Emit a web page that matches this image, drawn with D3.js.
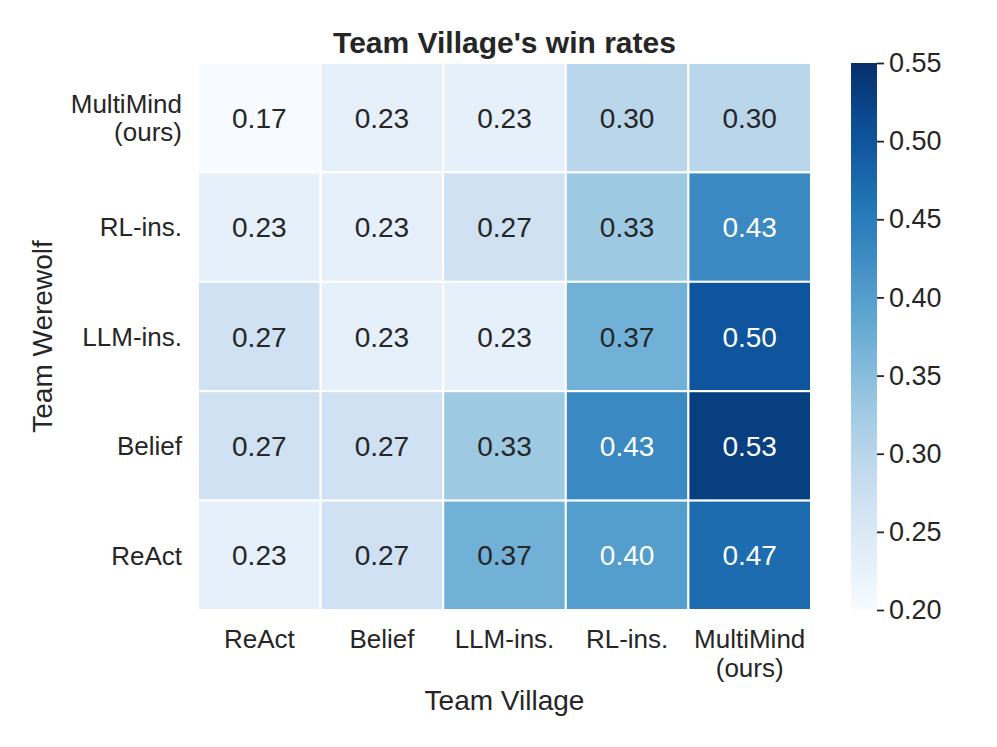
<!DOCTYPE html>
<html>
<head>
<meta charset="utf-8">
<script src="https://cdn.jsdelivr.net/npm/d3@7"></script>
<style>
body { margin: 0; background: #fff; }
text { font-family: "Liberation Sans", Arial, sans-serif; fill: #262626; }
</style>
</head>
<body>
<div id="chart"></div>
<script>
// columns = Team Village, rows = Team Werewolf
var villageTeams = ["ReAct", "Belief", "LLM-ins.", "RL-ins.", "MultiMind\n(ours)"]
var werewolfTeams = ["MultiMind\n(ours)", "RL-ins.", "LLM-ins.", "Belief", "ReAct"]
var rowMultiMind = [0.17, 0.23, 0.23, 0.30, 0.30]
var rowRL = [0.23, 0.23, 0.27, 0.33, 0.43]
var rowLLM = [0.27, 0.23, 0.23, 0.37, 0.50]
var rowBelief = [0.27, 0.27, 0.33, 0.43, 0.53]
var rowReAct = [0.23, 0.27, 0.37, 0.40, 0.47]
var colorTicks = [0.20, 0.25, 0.30, 0.35, 0.40, 0.45, 0.50, 0.55]

var rows = [rowMultiMind, rowRL, rowLLM, rowBelief, rowReAct]
var cells = []
rows.forEach((r, i) => r.forEach((v, j) => cells.push({row: i, col: j, value: v})))

var width = 997, height = 747
var margin = {top: 63, left: 198, right: 186, bottom: 137}

var svg = d3.select("#chart").append("svg")
  .attr("width", width).attr("height", height)

var x = d3.scaleBand().domain(d3.range(villageTeams.length))
  .range([margin.left, width - margin.right])
var y = d3.scaleBand().domain(d3.range(werewolfTeams.length))
  .range([margin.top, height - margin.bottom])
var color = d3.scaleSequential(d3.interpolateBlues).domain([0.2, 0.55]).clamp(true)

function lum(c) {
  var rgb = d3.rgb(c)
  var f = v => { v = v / 255; return v <= 0.03928 ? v / 12.92 : Math.pow((v + 0.055) / 1.055, 2.4) }
  return 0.2126 * f(rgb.r) + 0.7152 * f(rgb.g) + 0.0722 * f(rgb.b)
}

svg.append("g").selectAll("rect").data(cells).join("rect")
  .attr("x", d => x(d.col)).attr("y", d => y(d.row))
  .attr("width", x.bandwidth()).attr("height", y.bandwidth())
  .attr("fill", d => color(d.value))
  .attr("stroke", "#fff").attr("stroke-width", 2)

svg.append("g").selectAll("text").data(cells).join("text")
  .attr("x", d => x(d.col) + x.bandwidth() / 2)
  .attr("y", d => y(d.row) + y.bandwidth() / 2)
  .attr("text-anchor", "middle").attr("dy", "0.36em")
  .attr("font-size", "28px")
  .style("fill", d => lum(color(d.value)) < 0.34 ? "#fff" : "#262626")
  .text(d => d.value.toFixed(2))

// x tick labels
svg.append("g").selectAll("text").data(villageTeams).join("text")
  .attr("x", (d, i) => x(i) + x.bandwidth() / 2)
  .attr("y", height - margin.bottom + 38)
  .attr("text-anchor", "middle").attr("font-size", "26px")
  .each(function(d) {
    var t = d3.select(this)
    d.split("\n").forEach((s, k) => t.append("tspan").attr("x", t.attr("x")).attr("dy", k ? "1.1em" : 0).text(s))
  })

// y tick labels
svg.append("g").selectAll("text").data(werewolfTeams).join("text")
  .attr("text-anchor", "end").attr("font-size", "26px")
  .each(function(d, i) {
    var t = d3.select(this)
    var lines = d.split("\n")
    var yc = y(i) + y.bandwidth() / 2 - (lines.length - 1) * 14
    lines.forEach((s, k) => t.append("tspan").attr("x", margin.left - 16)
      .attr("y", yc + k * 28).attr("dy", "0.36em").text(s))
  })

svg.append("text").attr("x", (margin.left + width - margin.right) / 2).attr("y", 710)
  .attr("text-anchor", "middle").attr("font-size", "28px").text("Team Village")
svg.append("text").attr("transform", `translate(52,${(margin.top + height - margin.bottom) / 2}) rotate(-90)`)
  .attr("text-anchor", "middle").attr("font-size", "28px").text("Team Werewolf")
svg.append("text").attr("x", (margin.left + width - margin.right) / 2).attr("y", 53)
  .attr("text-anchor", "middle").attr("font-size", "30px").attr("font-weight", "bold")
  .text("Team Village's win rates")

// colorbar
var cbX = 851, cbW = 26
var cy = d3.scaleLinear().domain([0.2, 0.55]).range([height - margin.bottom, margin.top])
var defs = svg.append("defs")
var grad = defs.append("linearGradient").attr("id", "cbar")
  .attr("x1", 0).attr("y1", 1).attr("x2", 0).attr("y2", 0)
d3.range(0, 1.001, 0.05).forEach(t => grad.append("stop")
  .attr("offset", t).attr("stop-color", color(0.2 + t * 0.35)))
svg.append("rect").attr("x", cbX).attr("y", margin.top)
  .attr("width", cbW).attr("height", height - margin.bottom - margin.top)
  .attr("fill", "url(#cbar)")
svg.append("g").attr("transform", `translate(${cbX + cbW},0)`)
  .call(d3.axisRight(cy).tickValues(colorTicks).tickFormat(d3.format(".2f")).tickSize(7).tickPadding(5))
  .call(g => g.select(".domain").remove())
  .call(g => g.selectAll("line").attr("stroke", "#262626").attr("stroke-width", 1.8))
  .call(g => g.selectAll("text").attr("font-size", "27px").attr("font-family", "Liberation Sans, Arial, sans-serif").style("fill", "#262626"))
</script>
</body>
</html>
